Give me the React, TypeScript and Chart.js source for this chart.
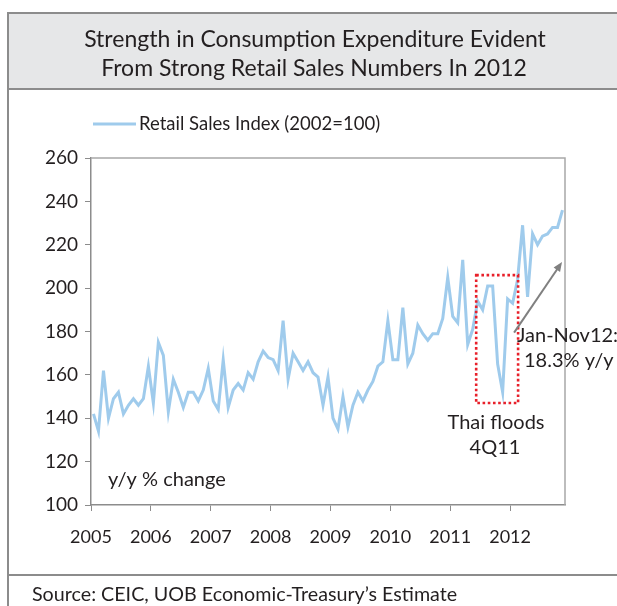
import React, { useEffect, useRef } from "react";
import { Chart, registerables } from "chart.js";

Chart.register(...registerables);

// ---- Data ----
const yearLabels = ["2005", "2006", "2007", "2008", "2009", "2010", "2011", "2012"];
const sales2005 = [142, 134, 162, 140, 149, 152, 142, 146, 149, 146, 149, 164];
const sales2006 = [147, 175, 169, 143, 158, 152, 145, 152, 152, 148, 153, 163];
const sales2007 = [148, 144, 167, 145, 153, 156, 153, 161, 158, 166, 171, 168];
const sales2008 = [167, 162, 185, 158, 170, 166, 162, 166, 161, 159, 146, 159];
const sales2009 = [140, 135, 150, 136, 146, 152, 148, 153, 157, 164, 166, 185];
const sales2010 = [167, 167, 191, 165, 170, 183, 179, 176, 179, 179, 186, 205];
const sales2011 = [187, 184, 213, 174, 181, 194, 190, 201, 201, 165, 152, 195];
const sales2012 = [193, 204, 229, 196, 225, 220, 224, 225, 228, 228, 236];
const retailSales = [
  ...sales2005, ...sales2006, ...sales2007, ...sales2008,
  ...sales2009, ...sales2010, ...sales2011, ...sales2012,
];
const yMin = 100;
const yMax = 260;
const yStep = 20;
const seriesLabel = "Retail Sales Index (2002=100)";
const titleLines = [
  "Strength in Consumption Expenditure Evident",
  "From Strong Retail Sales Numbers In 2012",
];
const sourceText = "Source: CEIC, UOB Economic-Treasury\u2019s Estimate";
const noteYoY = "y/y % change";
const noteFlood = ["Thai floods", "4Q11"];
const noteGrowth = ["Jan-Nov12:", "18.3% y/y"];
// flood box: month index range and value range
const floodBox = { x0: 76.7, x1: 85.1, y0: 147, y1: 206 };
// arrow from/to (month index, value)
const arrowFrom = { x: 84.3, y: 179.5 };
const arrowTo = { x: 93.9, y: 212 };

const FONT = "Lato, 'Open Sans', sans-serif";
const TEXT = "#231f20";
const LINE = "#9fcbec";
const FRAME = "#8c8c8c";

export default function App() {
  const ref = useRef<HTMLCanvasElement | null>(null);

  useEffect(() => {
    const canvas = ref.current;
    if (!canvas) return;

    const decor = {
      id: "decor",
      beforeDraw(chart: any) {
        const ctx = chart.ctx;
        ctx.save();
        ctx.fillStyle = "#ffffff";
        ctx.fillRect(0, 0, chart.width, chart.height);
        // title box
        ctx.fillStyle = "#e6e7e8";
        ctx.fillRect(8, 13, chart.width - 8, 76);
        ctx.strokeStyle = FRAME;
        ctx.lineWidth = 2;
        ctx.beginPath();
        ctx.moveTo(8, 13);
        ctx.lineTo(chart.width, 13);
        ctx.moveTo(8, 89);
        ctx.lineTo(chart.width, 89);
        ctx.moveTo(8, 575);
        ctx.lineTo(chart.width, 575);
        ctx.moveTo(8, 12);
        ctx.lineTo(8, chart.height);
        ctx.stroke();
        // title
        ctx.fillStyle = TEXT;
        ctx.textAlign = "center";
        ctx.textBaseline = "alphabetic";
        ctx.font = `23px ${FONT}`;
        ctx.fillText(titleLines[0], 315, 47);
        ctx.fillText(titleLines[1], 314, 76);
        // source
        ctx.textAlign = "left";
        ctx.font = `19.7px ${FONT}`;
        ctx.fillText(sourceText, 32, 601);
        ctx.restore();
      },
      afterDraw(chart: any) {
        const ctx = chart.ctx;
        const xs = chart.scales.x;
        const ys = chart.scales.y;
        const a = chart.chartArea;
        ctx.save();
        // top & right border of plot
        ctx.strokeStyle = "#a8a8a8";
        ctx.lineWidth = 1.5;
        ctx.beginPath();
        ctx.moveTo(a.left, a.top);
        ctx.lineTo(a.right, a.top);
        ctx.lineTo(a.right, a.bottom);
        ctx.stroke();
        // legend
        ctx.strokeStyle = LINE;
        ctx.lineWidth = 3;
        ctx.beginPath();
        ctx.moveTo(93, 124);
        ctx.lineTo(136, 124);
        ctx.stroke();
        ctx.fillStyle = TEXT;
        ctx.font = `18.5px ${FONT}`;
        ctx.textAlign = "left";
        ctx.textBaseline = "alphabetic";
        ctx.fillText(seriesLabel, 139, 130);
        // y/y note
        ctx.font = `20px ${FONT}`;
        ctx.fillText(noteYoY, 108, 486);
        // flood box
        ctx.strokeStyle = "#e8202a";
        ctx.lineWidth = 2.6;
        ctx.setLineDash([2.6, 2.6]);
        const bx0 = xs.getPixelForValue(floodBox.x0);
        const bx1 = xs.getPixelForValue(floodBox.x1);
        const by0 = ys.getPixelForValue(floodBox.y1);
        const by1 = ys.getPixelForValue(floodBox.y0);
        ctx.strokeRect(bx0, by0, bx1 - bx0, by1 - by0);
        ctx.setLineDash([]);
        // flood text
        ctx.font = `20px ${FONT}`;
        ctx.textAlign = "center";
        ctx.fillText(noteFlood[0], 496, 429);
        ctx.fillText(noteFlood[1], 495, 454);
        // growth text
        ctx.textAlign = "left";
        ctx.fillText(noteGrowth[0], 517, 342);
        ctx.fillText(noteGrowth[1], 524, 367);
        // arrow
        const ax0 = xs.getPixelForValue(arrowFrom.x);
        const ay0 = ys.getPixelForValue(arrowFrom.y);
        const ax1 = xs.getPixelForValue(arrowTo.x);
        const ay1 = ys.getPixelForValue(arrowTo.y);
        const ang = Math.atan2(ay1 - ay0, ax1 - ax0);
        const head = 10;
        ctx.strokeStyle = "#808080";
        ctx.fillStyle = "#808080";
        ctx.lineWidth = 2;
        ctx.beginPath();
        ctx.moveTo(ax0, ay0);
        ctx.lineTo(ax1 - Math.cos(ang) * head * 0.8, ay1 - Math.sin(ang) * head * 0.8);
        ctx.stroke();
        ctx.beginPath();
        ctx.moveTo(ax1, ay1);
        ctx.lineTo(ax1 - head * Math.cos(ang - 0.4), ay1 - head * Math.sin(ang - 0.4));
        ctx.lineTo(ax1 - head * Math.cos(ang + 0.4), ay1 - head * Math.sin(ang + 0.4));
        ctx.closePath();
        ctx.fill();
        ctx.restore();
      },
    };

    const chart = new Chart(canvas, {
      type: "line",
      data: {
        datasets: [
          {
            label: seriesLabel,
            data: retailSales.map((v, i) => ({ x: i, y: v })),
            borderColor: LINE,
            borderWidth: 3,
            pointRadius: 0,
            tension: 0,
            fill: false,
          },
        ],
      },
      options: {
        responsive: false,
        animation: false,
        events: [],
        layout: { padding: { left: 0, top: 158, right: 52, bottom: 0 } },
        plugins: {
          legend: { display: false },
          title: { display: false },
          tooltip: { enabled: false },
        },
        scales: {
          x: {
            type: "linear",
            min: -0.5,
            max: retailSales.length - 0.5,
            afterBuildTicks: (scale: any) => {
              scale.ticks = yearLabels.map((_, k) => ({ value: -0.5 + 12 * k }));
            },
            afterFit: (scale: any) => {
              scale.height = 101;
            },
            ticks: {
              autoSkip: false,
              maxRotation: 0,
              minRotation: 0,
              padding: 15,
              color: TEXT,
              font: { family: FONT, size: 18 },
              callback: (value: any) => yearLabels[Math.round((Number(value) + 0.5) / 12)],
            },
            grid: { drawOnChartArea: false, drawTicks: true, tickLength: 6, color: FRAME },
            border: { color: FRAME, width: 1.5 },
          },
          y: {
            min: yMin,
            max: yMax,
            ticks: {
              stepSize: yStep,
              padding: 7,
              color: TEXT,
              font: { family: FONT, size: 19 },
            },
            afterFit: (scale: any) => {
              scale.width = 91;
            },
            grid: { drawOnChartArea: false, drawTicks: true, tickLength: 6, color: FRAME },
            border: { color: FRAME, width: 1.5 },
          },
        },
      },
      plugins: [decor],
    });

    return () => chart.destroy();
  }, []);

  return (
    <div style={{ position: "absolute", left: 0, top: 0, width: 617, height: 606 }}>
      <canvas ref={ref} width={617} height={606} style={{ width: 617, height: 606, display: "block" }} />
    </div>
  );
}
